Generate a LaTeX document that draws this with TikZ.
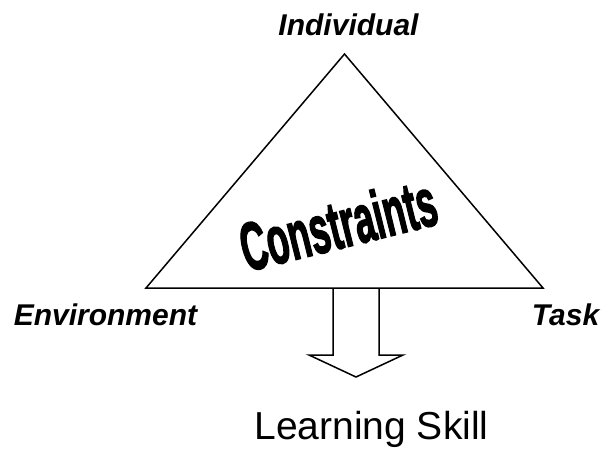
\documentclass[tikz,border=0pt]{standalone}
\usepackage{fontspec}
\setmainfont{Liberation Sans}
\newfontfamily\wordart[FakeBold=2.5]{Liberation Sans Bold}
\usetikzlibrary{positioning}
\tikzset{every path/.style={black, line width=1.5pt, line join=miter},
  corner/.style={font=\fontsize{30}{30}\selectfont\bfseries\itshape, inner sep=0pt}}

\begin{document}
\begin{tikzpicture}[x=1pt,y=-1pt]
  \useasboundingbox (0,0) rectangle (607,448);
  \coordinate (top) at (344.5,54);
  \coordinate (lft) at (146,288);
  \coordinate (rgt) at (543,288);
  \draw (top) -- (lft) -- (rgt) -- cycle;
  % block arrow
  \draw (333,288) -- (333,355) -- (309,355) -- (356,377) -- (403,355) -- (379,355) -- (379,288);
  \node[corner, anchor=base] (indiv) at (348.5,35) {Individual};
  \node[corner, anchor=base west] (env) at (13,325) {Environment};
  \node[corner, anchor=base east] (task) at (600,325) {Task};
  \node[rotate=14, inner sep=0pt] (constr) at (338,224) {\scalebox{0.9}[1.7]{\fontsize{40}{40}\selectfont\wordart Constraints}};
  \node[anchor=base, inner sep=0pt, font=\fontsize{39}{39}\selectfont] (skill) at (371.5,439) {Learning Skill};
\end{tikzpicture}
\end{document}
